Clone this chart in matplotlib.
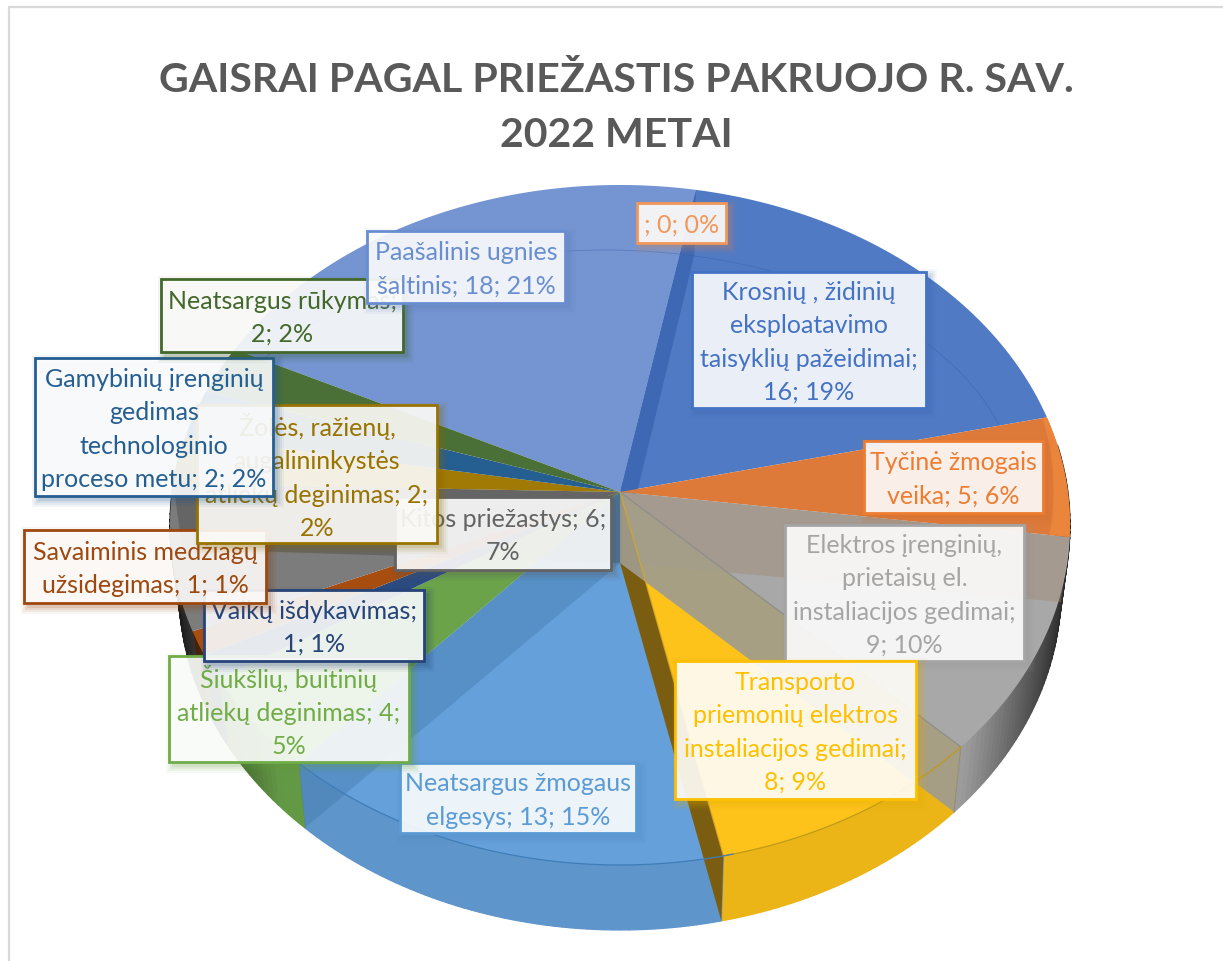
import numpy as np
import matplotlib
matplotlib.use("Agg")
import matplotlib.pyplot as plt
from matplotlib.patches import Rectangle

# ---- data ----
categories = ["Krosnių , židinių eksploatavimo taisyklių pažeidimai", "Tyčinė žmogais veika",
              "Elektros įrenginių, prietaisų el. instaliacijos gedimai",
              "Transporto priemonių elektros instaliacijos gedimai", "Neatsargus žmogaus elgesys",
              "Šiukšlių, buitinių atliekų deginimas", "Vaikų išdykavimas", "Savaiminis medžiagų užsidegimas",
              "Kitos priežastys", "Žolės, ražienų, augalininkystės atliekų deginimas",
              "Gamybinių įrenginių gedimas technologinio proceso metu", "Neatsargus rūkymas",
              "Paašalinis ugnies šaltinis", ""]
values = [16, 5, 9, 8, 13, 4, 1, 1, 6, 2, 2, 2, 18, 0]
percents = [19, 6, 10, 9, 15, 5, 1, 1, 7, 2, 2, 2, 21, 0]
wrapped = ["Krosnių , židinių\neksploatavimo\ntaisyklių pažeidimai;\n16; 19%",
           "Tyčinė žmogais\nveika; 5; 6%",
           "Elektros įrenginių,\nprietaisų el.\ninstaliacijos gedimai;\n9; 10%",
           "Transporto\npriemonių elektros\ninstaliacijos gedimai;\n8; 9%",
           "Neatsargus žmogaus\nelgesys; 13; 15%",
           "Šiukšlių, buitinių\natliekų deginimas; 4;\n5%",
           "Vaikų išdykavimas;\n1; 1%",
           "Savaiminis medžiagų\nužsidegimas; 1; 1%",
           "Kitos priežastys; 6;\n7%",
           "Žolės, ražienų,\naugalininkystės\natliekų deginimas; 2;\n2%",
           "Gamybinių įrenginių\ngedimas\ntechnologinio\nproceso metu; 2; 2%",
           "Neatsargus rūkymas;\n2; 2%",
           "Paašalinis ugnies\nšaltinis; 18; 21%",
           "; 0; 0%"]
title_text = "GAISRAI PAGAL PRIEŽASTIS PAKRUOJO R. SAV.\n2022 METAI"

# ---- style / layout ----
plt.rcParams['font.family'] = ['Lato', 'Noto Sans', 'DejaVu Sans']
label_colors = ["#4472C4", "#ED7D31", "#A5A5A5", "#FFC000", "#5B9BD5", "#70AD47", "#264478", "#9E480E",
                "#636363", "#997300", "#255E91", "#43682B", "#698ED0", "#F1975A"]
face_colors = ["#507AC4", "#DD7A3A", "#A8A8A8", "#FDC31A", "#65A0DA", "#6AA34A", "#2A4A80", "#A84D10",
               "#7C7C7C", "#A07A05", "#255E91", "#4A7038", "#7494D2", "#F1975A"]
boxes = [(692, 272, 926, 408), (864, 441, 1043, 513), (785, 525, 1024, 661), (675, 661, 916, 799),
         (400, 763, 636, 833), (169, 656, 409, 762), (204, 590, 424, 661), (24, 530, 266, 603),
         (395, 497, 611, 570), (197, 405, 437, 543), (35, 358, 273, 496), (161, 279, 403, 352),
         (367, 231, 565, 303), (637, 203, 726, 243)]

W, H = 1223, 961
fig = plt.figure(figsize=(W / 100, H / 100), dpi=100, facecolor="white")
ax = fig.add_axes([0, 0, 1, 1])
ax.set_xlim(0, W)
ax.set_ylim(H, 0)
ax.axis("off")

# perspective mapping of the pie disc to pixels
cx, cy, a, b, k = 620.0, 492.0, 447.9, 336.8, 0.097
depth, shrink, apex_drop = 65.0, 0.98, 71.0
start = np.radians(10.7)
edges = start + 2 * np.pi * np.concatenate([[0], np.cumsum(values)]) / np.sum(values)


def top(t):
    u, v = np.sin(t), np.cos(t)
    w = 1 + k * v
    return cx + a * u / w, cy - b * v / w


def bot(t):
    x, y = top(t)
    return cx + (x - cx) * shrink, y + depth


def arc(t0, t1):
    return np.linspace(t0, t1, max(2, int(np.degrees(t1 - t0)) + 2))


def face(i, z):
    x, y = top(arc(edges[i], edges[i + 1]))
    ax.fill(np.r_[cx, x], np.r_[cy, y], color=face_colors[i], lw=0, zorder=z)


def wall(t, color, alpha, z):
    x0, y0 = top(t)
    x1, y1 = bot(t)
    ax.fill([cx, x0, x1, cx], [cy, y0, y1, cy + apex_drop], color=color, alpha=alpha, lw=0, zorder=z)


def darker(hexcol, f):
    rgb = np.array(matplotlib.colors.to_rgb(hexcol))
    return tuple(np.clip(rgb * f, 0, 1))


# rim, shaded towards the silhouette
for i in range(len(values)):
    if values[i] == 0:
        continue
    ts = arc(edges[i], edges[i + 1])
    for t0, t1 in zip(ts[:-1], ts[1:]):
        tm = 0.5 * (t0 + t1)
        if np.cos(tm) > 0.15:
            continue
        s = abs(np.sin(tm))
        f = 0.93 - 0.75 * max(0.0, s - 0.72) / 0.28
        xa, ya = top(t0)
        xb, yb = top(t1)
        xc, yc = bot(t1)
        xd, yd = bot(t0)
        ax.fill([xa, xb, xc, xd], [ya, yb, yc, yd], color=darker(face_colors[i], f), lw=0.9,
                zorder=2)

# back faces and the wall seen behind the others
face(12, 3)
face(0, 3)
wall(edges[0], "#3F68B4", 1.0, 3.2)

# faint line of the far rim
pb = np.radians(np.linspace(-135, 85, 200))
bx = 605 + 413 * np.sin(pb)
by = 500 - 250 * np.cos(pb)
ax.plot(bx, by, color="#3A5FA5", lw=0.6, alpha=0.45, zorder=3.4)

for i in list(range(1, 12)):
    face(i, 4)

# lighter strip at the far orange edge
ts = arc(edges[1], edges[2])
xo, yo = top(ts)
fr = np.linspace(0.99, 0.955, len(ts))
xi, yi = cx + (xo - cx) * fr, cy + (yo - cy) * fr
ax.fill(np.r_[xo, xi[::-1]], np.r_[yo, yi[::-1]], color="#EC853C", lw=0, zorder=4.1)

# inner walls seen through the translucent slices
wall(edges[2], "#A0876C", 0.40, 4.3)      # orange / grey
wall(edges[4], "#7A5D10", 1.0, 4.4)       # yellow / blue
wall(edges[3], "#A09C8E", 0.92, 4.5)      # grey / yellow
wall(edges[5], "#3F77A8", 0.38, 4.6)      # blue / green
wall(edges[9], "#333333", 0.30, 4.6)      # Kitos / Žolės

# grey wall's edges, thin outlines of the yellow slice seen through it, front rim lines
gx, gy = top(edges[3])
gbx, gby = bot(edges[3])
ax.plot([cx, gx, gbx], [cy, gy, gby], color="#8F8F8A", lw=1.0, zorder=4.7)
ex, ey = top(edges[4])
ax.plot([cx, ex], [cy, ey], color="#D8A81C", lw=0.9, alpha=0.8, zorder=4.7)
ax.plot(*top(arc(edges[3], edges[4])), color="#C09A18", lw=0.9, zorder=4.7)
ax.plot(*top(arc(edges[4] - 0.02, edges[5] + 0.02)), color="#3F7DB8", lw=0.9, zorder=4.7)

# data labels, each later label over the earlier ones
for n, (txt, col, box) in enumerate(zip(wrapped, label_colors, boxes)):
    x0, y0, x1, y1 = box
    z = 10 + n
    for grow, al in ((7, 0.05), (5, 0.07), (3, 0.09), (1, 0.12)):
        ax.add_patch(Rectangle((x0 + 4 - grow, y0 + 4 - grow), x1 - x0 + 2 * grow, y1 - y0 + 2 * grow,
                               fc=darker(col, 0.9), ec="none", alpha=al, zorder=z))
    ax.add_patch(Rectangle((x0, y0), x1 - x0, y1 - y0, fc=(1, 1, 1, 0.89), ec=col, lw=2.0, zorder=z + 0.1))
    ax.text((x0 + x1) / 2, (y0 + y1) / 2 + 2.5, txt, color=col, fontsize=18, ha="center", va="center",
            linespacing=1.53, zorder=z + 0.2)

ax.text(616, 108, title_text, color="#595959", fontsize=29.6, fontweight="bold", ha="center", va="center",
        linespacing=1.6, zorder=30)

# chart frame
ax.plot([9, 9, W], [H, 7, 7], color="#D9D9D9", lw=1.6, zorder=0.5)

fig.savefig("out.png", dpi=100)
